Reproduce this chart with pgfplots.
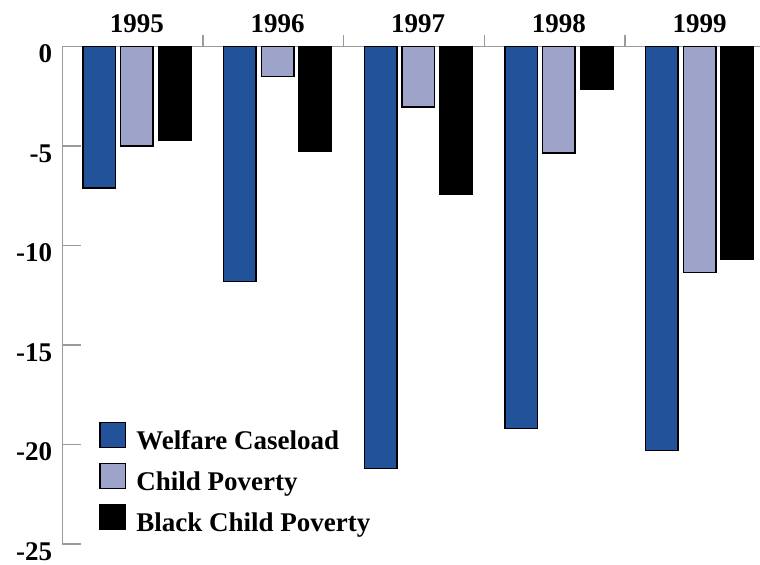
\documentclass[border=0pt]{standalone}
\usepackage{fontspec}
\setmainfont{Liberation Serif}
\usepackage{pgfplots}
\pgfplotsset{compat=1.18}

\definecolor{welfare}{HTML}{22529A}
\definecolor{childpov}{HTML}{9EA3CA}
\definecolor{axisgray}{HTML}{9A9A9A}
\newcommand{\lblfont}{\bfseries\fontsize{13.5}{16}\selectfont}

\begin{document}
\begin{tikzpicture}
\useasboundingbox (0,0) rectangle (380pt,282pt);
\begin{axis}[
  at={(31.25pt,10pt)}, anchor=south west,
  scale only axis, width=348.75pt, height=248.75pt,
  xmin=-0.529, xmax=4.43, ymin=-25, ymax=0,
  axis x line=top, axis y line=left,
  axis line style={-, draw=axisgray, line width=0.8pt},
  tick align=inside,
  ybar=2.6pt, bar width=16.25pt,
  % year labels at the group centres, gap ticks between groups
  xtick={0,1,2,3,4},
  xticklabels={1995,1996,1997,1998,1999},
  major x tick style={draw=none},
  minor xtick={0.47,1.47,2.47,3.47},
  minor x tick style={draw=axisgray, line width=0.8pt},
  minor tick length=6pt,
  ytick={-25,-20,-15,-10,-5,0},
  yticklabels={-25,-20,-15,-10,-5,0},
  major y tick style={draw=axisgray, line width=0.8pt},
  major tick length=9pt,
  x tick label style={font=\lblfont, anchor=south, inner sep=0pt, yshift=-2.25pt},
  y tick label style={font=\lblfont, anchor=north east, inner sep=0pt, xshift=-5pt, yshift=1pt},
  legend image code/.code={\draw[#1] (0pt,-3pt) rectangle (12.75pt,9.5pt);},
  legend cell align=left,
  legend style={at={(0.053,0.246)}, anchor=north west, draw=none, fill=none,
    inner sep=0pt, outer sep=0pt, row sep=5.25pt, column sep=5pt,
    nodes={inner sep=0pt, font=\lblfont}},
]
\addplot[fill=welfare, draw=black, line width=0.75pt]
  coordinates {(0,-7.1) (1,-11.8) (2,-21.2) (3,-19.2) (4,-20.3)};
\addplot[fill=childpov, draw=black, line width=0.75pt]
  coordinates {(0,-5.0) (1,-1.5) (2,-3.05) (3,-5.35) (4,-11.35)};
\addplot[fill=black, draw=black, line width=0.75pt]
  coordinates {(0,-4.7) (1,-5.25) (2,-7.4) (3,-2.15) (4,-10.7)};
\legend{Welfare Caseload, Child Poverty, Black Child Poverty}
\end{axis}
\end{tikzpicture}
\end{document}
